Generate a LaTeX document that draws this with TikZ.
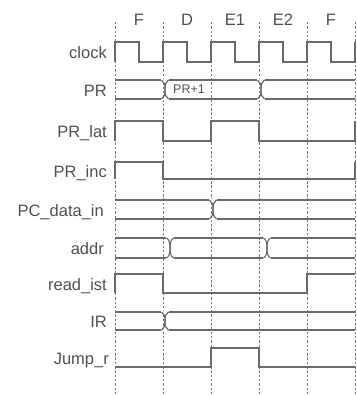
\documentclass[tikz,border=0pt]{standalone}
\usepackage{fontspec}
\setmainfont{Liberation Sans}
\definecolor{wavegray}{HTML}{6A6A6A}
\definecolor{gridgray}{HTML}{7C7C7C}
\definecolor{textgray}{HTML}{505050}

% bus crossing ")(" at x=#1 between the rails #2 (top) and #3 (bottom)
\newcommand{\buscross}[3]{%
  \fill[white] (#1-3.6,#2-1) rectangle (#1+3.6,#2+1);
  \fill[white] (#1-3.6,#3-1) rectangle (#1+3.6,#3+1);
  \draw[sig] (#1-3.5,#2) .. controls (#1-0.8,#2+1.5) and (#1,{(#2+#3)/2-5}) .. (#1,{(#2+#3)/2})
    .. controls (#1,{(#2+#3)/2+5}) and (#1-0.8,#3-1.5) .. (#1-3.5,#3);
  \draw[sig] (#1+3.5,#2) .. controls (#1+0.8,#2+1.5) and (#1,{(#2+#3)/2-5}) .. (#1,{(#2+#3)/2})
    .. controls (#1,{(#2+#3)/2+5}) and (#1+0.8,#3-1.5) .. (#1+3.5,#3);
}

\begin{document}
\begin{tikzpicture}[
    x=1pt, y=-1pt, % pixel-like units, y grows downwards
    sig/.style={draw=wavegray, line width=1.2pt, line join=miter},
    rail/.style={draw=wavegray, line width=1.2pt},
    tick/.style={draw=gridgray, line width=1pt, dash pattern=on 2.5pt off 1.8pt},
    lbl/.style={anchor=base east, inner sep=0pt, text=textgray,
      font=\fontsize{16.5}{18}\selectfont},
    phase/.style={anchor=base, inner sep=0pt, text=textgray,
      font=\fontsize{16.5}{18}\selectfont}
  ]
  \useasboundingbox (0,0) rectangle (356,396);

  % cycle boundaries
  \foreach \x in {115,163,211,259,307,355}
    \draw[tick] (\x,22) -- (\x,396);

  % machine states
  \node[phase] (f1) at (139,26) {F};
  \node[phase] (d) at (187,26) {D};
  \node[phase] (e1) at (235,26) {E1};
  \node[phase] (e2) at (283,26) {E2};
  \node[phase] (f2) at (331,26) {F};

  % signal names
  \node[lbl] (clk) at (107,58.5) {clock};
  \node[lbl] (pr) at (107,96) {PR};
  \node[lbl] (prlat) at (107,137.5) {PR\_lat};
  \node[lbl] (princ) at (107,177) {PR\_inc};
  \node[lbl] (pcin) at (104,216) {PC\_data\_in};
  \node[lbl] (addr) at (104,254.5) {addr};
  \node[lbl] (rdist) at (107,290) {read\_ist};
  \node[lbl] (ir) at (107,327.5) {IR};
  \node[lbl] (jmp) at (109,364) {Jump\_r};

  % clock
  \draw[sig] (115,62)
    \foreach \x in {115,163,211,259,307} { -- (\x,62) -- (\x,42) -- (\x+24,42) -- (\x+24,62) }
    -- (355,62) -- (355,42);

  % PR bus
  \draw[rail] (115,80) -- (355,80);
  \draw[rail] (115,99) -- (355,99);
  \buscross{165}{80}{99}
  \buscross{261}{80}{99}
  \node[text=textgray, font=\fontsize{12.5}{14}\selectfont, inner sep=0pt] (prnext) at (189,89.5) {PR+1};

  % PR_lat
  \draw[sig] (115,141) -- (115,121) -- (163,121) -- (163,141) -- (211,141)
    -- (211,121) -- (259,121) -- (259,141) -- (355,141) -- (355,121);

  % PR_inc
  \draw[sig] (115,179) -- (115,162) -- (163,162) -- (163,179) -- (355,179) -- (355,162);

  % PC_data_in bus
  \draw[rail] (115,200) -- (355,200);
  \draw[rail] (115,219) -- (355,219);
  \buscross{213}{200}{219}

  % addr bus
  \draw[rail] (115,238) -- (355,238);
  \draw[rail] (115,258) -- (355,258);
  \buscross{170}{238}{258}
  \buscross{267}{238}{258}

  % read_ist
  \draw[sig] (115,293) -- (115,274) -- (163,274) -- (163,293) -- (307,293)
    -- (307,274) -- (355,274);

  % IR bus
  \draw[rail] (115,312) -- (355,312);
  \draw[rail] (115,330) -- (355,330);
  \buscross{165}{312}{330}

  % Jump_r
  \draw[sig] (115,367) -- (211,367) -- (211,348) -- (259,348) -- (259,367) -- (355,367);
\end{tikzpicture}
\end{document}
